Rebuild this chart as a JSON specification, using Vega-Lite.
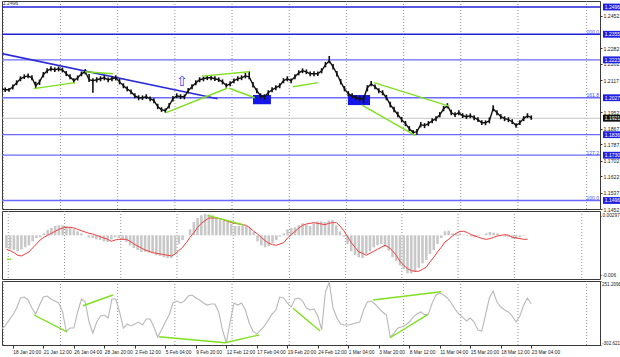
{
"$schema":"https://vega.github.io/schema/vega-lite/v6.json",
"padding":0,"autosize":{"type":"pad"},"background":"white",
"spacing":2,"bounds":"flush",
"resolve":{"scale":{"x":"independent","y":"independent"}},
"config":{"view":{"stroke":"#3a3a3a","strokeWidth":1},"axis":{"labelFont":"Liberation Sans","labelColor":"#222","tickColor":"#333","domain":false,"grid":false,"title":null,"labelOverlap":false,"labelFlush":false,"labelBound":false},"text":{"font":"Liberation Sans"}},
"datasets":{
"weeks":[{"i":-5},{"i":25},{"i":55},{"i":85},{"i":115},{"i":145},{"i":175},{"i":205},{"i":235},{"i":265},{"i":301}],
"levels":[
{"p":1.2496,"kind":"major","t":"1.2496","f":""},
{"p":1.2355,"kind":"major","t":"1.2355","f":"200.0"},
{"p":1.2223,"kind":"minor","t":"1.2223","f":""},
{"p":1.2027,"kind":"minor","t":"1.2027","f":"161.8"},
{"p":1.1836,"kind":"minor","t":"1.1836","f":""},
{"p":1.1730,"kind":"minor","t":"1.1730","f":"127.2"},
{"p":1.1496,"kind":"minor","t":"1.1496","f":"100.0"},
{"p":1.1921,"kind":"bid","t":"1.1921","f":""}],
"ticks":[{"p":1.1452},{"p":1.1537},{"p":1.1622},{"p":1.1702},{"p":1.1787},{"p":1.1867},{"p":1.1952},{"p":1.2117},{"p":1.2202},{"p":1.2282},{"p":1.2452}],
"trend":[{"i":-6,"p":1.2256},{"i":107.4,"p":1.2022}],
"greens":[
{"g":1,"i":11.1,"p":1.2074},{"g":1,"i":32.6,"p":1.2105},
{"g":2,"i":37.9,"p":1.2161},{"g":2,"i":52.5,"p":1.2151},
{"g":3,"i":80.4,"p":1.1950},{"g":3,"i":112.4,"p":1.2076},
{"g":4,"i":99.2,"p":1.2139},{"g":4,"i":123.9,"p":1.2161},
{"g":5,"i":113.4,"p":1.2076},{"g":5,"i":127.0,"p":1.2027},
{"g":6,"i":147.0,"p":1.2084},{"g":6,"i":160.1,"p":1.2105},
{"g":7,"i":189.5,"p":1.2105},{"g":7,"i":228.8,"p":1.1984},
{"g":8,"i":183.2,"p":1.1989},{"g":8,"i":211.0,"p":1.1833}],
"rects":[{"i1":126.0,"i2":135.4,"p1":1.2041,"p2":1.1994},{"i1":175.8,"i2":187.4,"p1":1.2041,"p2":1.1989}],
"arrow":[{"i":88.7,"p":1.2108,"t":"⇧"}],
"macdg":[{"g":1,"i":-5.7,"m":-0.0036},{"g":1,"i":-3.6,"m":-0.0036},{"g":2,"i":101.3,"m":0.0030},{"g":2,"i":120.7,"m":0.00155}],
"ccig":[
{"g":1,"i":11.1,"v":-43},{"g":1,"i":28.4,"v":-190},
{"g":2,"i":36.8,"v":37},{"g":2,"i":52.5,"v":130},
{"g":3,"i":76.7,"v":-231},{"g":3,"i":111.3,"v":-283},
{"g":4,"i":111.3,"v":-283},{"g":4,"i":129.1,"v":-216},
{"g":5,"i":147.0,"v":15},{"g":5,"i":161.2,"v":-182},
{"g":6,"i":189.0,"v":87},{"g":6,"i":224.6,"v":158},
{"g":7,"i":197.9,"v":-240},{"g":7,"i":217.8,"v":-37}],
"bars":[
{"i":-6,"h":1.2086,"l":1.2062,"c":1.2073,"m":-0.0019,"s":-0.0021,"v":-164},
{"i":-4,"h":1.2080,"l":1.2057,"c":1.2068,"m":-0.0021,"s":-0.0023,"v":-138},
{"i":-2,"h":1.2078,"l":1.2058,"c":1.2068,"m":-0.0022,"s":-0.0026,"v":-87},
{"i":0,"h":1.2096,"l":1.2070,"c":1.2084,"m":-0.0024,"s":-0.0030,"v":-43},
{"i":2,"h":1.2117,"l":1.2092,"c":1.2104,"m":-0.0021,"s":-0.0031,"v":17},
{"i":4,"h":1.2138,"l":1.2112,"c":1.2125,"m":-0.0018,"s":-0.0028,"v":104},
{"i":6,"h":1.2148,"l":1.2124,"c":1.2135,"m":-0.0015,"s":-0.0025,"v":112},
{"i":8,"h":1.2152,"l":1.2128,"c":1.2140,"m":-0.0009,"s":-0.0019,"v":87},
{"i":10,"h":1.2143,"l":1.2118,"c":1.2130,"m":-0.0004,"s":-0.0013,"v":17},
{"i":12,"h":1.2110,"l":1.2076,"c":1.2089,"m":-0.0003,"s":-0.0007,"v":-35},
{"i":14,"h":1.2121,"l":1.2093,"c":1.2109,"m":0.0003,"s":-0.0003,"v":43},
{"i":16,"h":1.2160,"l":1.2132,"c":1.2146,"m":0.0008,"s":0.0000,"v":112},
{"i":18,"h":1.2179,"l":1.2153,"c":1.2166,"m":0.0011,"s":0.0003,"v":121},
{"i":20,"h":1.2190,"l":1.2164,"c":1.2177,"m":0.0014,"s":0.0006,"v":95},
{"i":22,"h":1.2184,"l":1.2160,"c":1.2171,"m":0.0015,"s":0.0009,"v":78},
{"i":24,"h":1.2188,"l":1.2163,"c":1.2177,"m":0.0015,"s":0.0011,"v":61},
{"i":26,"h":1.2183,"l":1.2158,"c":1.2171,"m":0.0014,"s":0.0012,"v":-9},
{"i":28,"h":1.2165,"l":1.2139,"c":1.2151,"m":0.0012,"s":0.0012,"v":-182},
{"i":30,"h":1.2148,"l":1.2122,"c":1.2135,"m":0.0009,"s":0.0011,"v":-156},
{"i":32,"h":1.2128,"l":1.2102,"c":1.2115,"m":0.0006,"s":0.0009,"v":-156},
{"i":34,"h":1.2142,"l":1.2116,"c":1.2130,"m":0.0003,"s":0.0007,"v":-17},
{"i":36,"h":1.2163,"l":1.2138,"c":1.2151,"m":0.0000,"s":0.0005,"v":95},
{"i":38,"h":1.2175,"l":1.2148,"c":1.2161,"m":-0.0003,"s":0.0003,"v":69},
{"i":40,"h":1.2150,"l":1.2108,"c":1.2120,"m":-0.0004,"s":0.0002,"v":-104},
{"i":42,"h":1.2128,"l":1.2053,"c":1.2115,"m":-0.0006,"s":0.0000,"v":-199},
{"i":44,"h":1.2133,"l":1.2106,"c":1.2120,"m":-0.0007,"s":-0.0002,"v":-104},
{"i":46,"h":1.2138,"l":1.2112,"c":1.2125,"m":-0.0009,"s":-0.0004,"v":-52},
{"i":48,"h":1.2143,"l":1.2117,"c":1.2130,"m":-0.0010,"s":-0.0006,"v":-43},
{"i":50,"h":1.2132,"l":1.2107,"c":1.2120,"m":-0.0006,"s":-0.0009,"v":-69},
{"i":52,"h":1.2138,"l":1.2112,"c":1.2125,"m":-0.0003,"s":-0.0007,"v":95},
{"i":54,"h":1.2143,"l":1.2116,"c":1.2130,"m":-0.0004,"s":-0.0006,"v":95},
{"i":56,"h":1.2124,"l":1.2096,"c":1.2109,"m":-0.0007,"s":-0.0006,"v":-17},
{"i":58,"h":1.2102,"l":1.2076,"c":1.2089,"m":-0.0010,"s":-0.0006,"v":-156},
{"i":60,"h":1.2086,"l":1.2060,"c":1.2073,"m":-0.0015,"s":-0.0009,"v":-121},
{"i":62,"h":1.2070,"l":1.2045,"c":1.2058,"m":-0.0019,"s":-0.0013,"v":-138},
{"i":64,"h":1.2050,"l":1.2024,"c":1.2037,"m":-0.0022,"s":-0.0016,"v":-121},
{"i":66,"h":1.2040,"l":1.2014,"c":1.2027,"m":-0.0025,"s":-0.0019,"v":-104},
{"i":68,"h":1.2039,"l":1.2015,"c":1.2027,"m":-0.0025,"s":-0.0022,"v":-130},
{"i":70,"h":1.2045,"l":1.2020,"c":1.2032,"m":-0.0026,"s":-0.0024,"v":-78},
{"i":72,"h":1.2034,"l":1.2009,"c":1.2022,"m":-0.0027,"s":-0.0026,"v":-78},
{"i":74,"h":1.2025,"l":1.1998,"c":1.2012,"m":-0.0030,"s":-0.0027,"v":-147},
{"i":76,"h":1.1996,"l":1.1968,"c":1.1981,"m":-0.0031,"s":-0.0028,"v":-234},
{"i":78,"h":1.1978,"l":1.1954,"c":1.1965,"m":-0.0033,"s":-0.0029,"v":-173},
{"i":80,"h":1.1972,"l":1.1950,"c":1.1960,"m":-0.0034,"s":-0.0030,"v":-104},
{"i":82,"h":1.2000,"l":1.1972,"c":1.1986,"m":-0.0034,"s":-0.0031,"v":-43},
{"i":84,"h":1.2036,"l":1.2008,"c":1.2022,"m":-0.0027,"s":-0.0028,"v":61},
{"i":86,"h":1.2050,"l":1.2025,"c":1.2037,"m":-0.0013,"s":-0.0023,"v":78},
{"i":88,"h":1.2045,"l":1.2020,"c":1.2032,"m":-0.0007,"s":-0.0018,"v":61},
{"i":90,"h":1.2044,"l":1.2019,"c":1.2032,"m":0.0000,"s":-0.0011,"v":78},
{"i":92,"h":1.2077,"l":1.2050,"c":1.2063,"m":0.0009,"s":-0.0003,"v":121},
{"i":94,"h":1.2097,"l":1.2071,"c":1.2084,"m":0.0020,"s":0.0004,"v":130},
{"i":96,"h":1.2117,"l":1.2092,"c":1.2104,"m":0.0026,"s":0.0012,"v":104},
{"i":98,"h":1.2133,"l":1.2107,"c":1.2120,"m":0.0030,"s":0.0018,"v":87},
{"i":100,"h":1.2137,"l":1.2112,"c":1.2125,"m":0.0032,"s":0.0022,"v":61},
{"i":102,"h":1.2143,"l":1.2118,"c":1.2130,"m":0.0031,"s":0.0026,"v":43},
{"i":104,"h":1.2142,"l":1.2117,"c":1.2130,"m":0.0030,"s":0.0026,"v":52},
{"i":106,"h":1.2138,"l":1.2113,"c":1.2125,"m":0.0027,"s":0.0026,"v":52},
{"i":108,"h":1.2132,"l":1.2108,"c":1.2120,"m":0.0024,"s":0.0025,"v":-17},
{"i":110,"h":1.2122,"l":1.2096,"c":1.2109,"m":0.0022,"s":0.0023,"v":-173},
{"i":112,"h":1.2102,"l":1.2079,"c":1.2089,"m":0.0020,"s":0.0021,"v":-283},
{"i":114,"h":1.2112,"l":1.2087,"c":1.2099,"m":0.0017,"s":0.0019,"v":-104},
{"i":116,"h":1.2127,"l":1.2102,"c":1.2115,"m":0.0014,"s":0.0018,"v":61},
{"i":118,"h":1.2138,"l":1.2113,"c":1.2125,"m":0.0014,"s":0.0017,"v":43},
{"i":120,"h":1.2143,"l":1.2118,"c":1.2130,"m":0.0015,"s":0.0016,"v":61},
{"i":122,"h":1.2155,"l":1.2127,"c":1.2140,"m":0.0014,"s":0.0015,"v":0},
{"i":124,"h":1.2162,"l":1.2122,"c":1.2135,"m":0.0011,"s":0.0011,"v":-112},
{"i":126,"h":1.2108,"l":1.2080,"c":1.2094,"m":0.0005,"s":0.0006,"v":-182},
{"i":128,"h":1.2076,"l":1.2050,"c":1.2063,"m":-0.0009,"s":0.0002,"v":-208},
{"i":130,"h":1.2050,"l":1.2024,"c":1.2037,"m":-0.0015,"s":-0.0003,"v":-173},
{"i":132,"h":1.2045,"l":1.2017,"c":1.2032,"m":-0.0018,"s":-0.0008,"v":-138},
{"i":134,"h":1.2066,"l":1.2040,"c":1.2053,"m":-0.0016,"s":-0.0012,"v":-87},
{"i":136,"h":1.2081,"l":1.2056,"c":1.2068,"m":-0.0012,"s":-0.0014,"v":-35},
{"i":138,"h":1.2091,"l":1.2066,"c":1.2079,"m":-0.0007,"s":-0.0015,"v":0},
{"i":140,"h":1.2102,"l":1.2076,"c":1.2089,"m":-0.0002,"s":-0.0013,"v":112},
{"i":142,"h":1.2128,"l":1.2102,"c":1.2115,"m":0.0003,"s":-0.0011,"v":104},
{"i":144,"h":1.2138,"l":1.2112,"c":1.2125,"m":0.0009,"s":-0.0004,"v":61},
{"i":146,"h":1.2127,"l":1.2102,"c":1.2115,"m":0.0011,"s":0.0001,"v":26},
{"i":148,"h":1.2148,"l":1.2122,"c":1.2135,"m":0.0012,"s":0.0006,"v":95},
{"i":150,"h":1.2169,"l":1.2143,"c":1.2156,"m":0.0015,"s":0.0011,"v":104},
{"i":152,"h":1.2179,"l":1.2154,"c":1.2166,"m":0.0018,"s":0.0015,"v":78},
{"i":154,"h":1.2173,"l":1.2149,"c":1.2161,"m":0.0016,"s":0.0017,"v":17},
{"i":156,"h":1.2163,"l":1.2138,"c":1.2151,"m":0.0014,"s":0.0018,"v":0},
{"i":158,"h":1.2164,"l":1.2138,"c":1.2151,"m":0.0018,"s":0.0019,"v":9},
{"i":160,"h":1.2163,"l":1.2139,"c":1.2151,"m":0.0021,"s":0.0018,"v":-52},
{"i":162,"h":1.2180,"l":1.2153,"c":1.2166,"m":0.0021,"s":0.0017,"v":-170},
{"i":164,"h":1.2212,"l":1.2184,"c":1.2197,"m":0.0020,"s":0.0016,"v":156},
{"i":166,"h":1.2243,"l":1.2205,"c":1.2218,"m":0.0022,"s":0.0018,"v":240},
{"i":168,"h":1.2201,"l":1.2173,"c":1.2187,"m":0.0023,"s":0.0019,"v":17},
{"i":170,"h":1.2165,"l":1.2137,"c":1.2151,"m":0.0015,"s":0.0019,"v":-69},
{"i":172,"h":1.2124,"l":1.2096,"c":1.2109,"m":0.0006,"s":0.0014,"v":-121},
{"i":174,"h":1.2087,"l":1.2060,"c":1.2073,"m":-0.0002,"s":0.0007,"v":-130},
{"i":176,"h":1.2061,"l":1.2035,"c":1.2048,"m":-0.0013,"s":-0.0002,"v":-130},
{"i":178,"h":1.2050,"l":1.2025,"c":1.2037,"m":-0.0024,"s":-0.0011,"v":-121},
{"i":180,"h":1.2040,"l":1.2015,"c":1.2027,"m":-0.0030,"s":-0.0018,"v":-112},
{"i":182,"h":1.2035,"l":1.2009,"c":1.2022,"m":-0.0033,"s":-0.0025,"v":-104},
{"i":184,"h":1.2034,"l":1.1999,"c":1.2022,"m":-0.0034,"s":-0.0027,"v":0},
{"i":186,"h":1.2092,"l":1.2060,"c":1.2079,"m":-0.0028,"s":-0.0030,"v":69},
{"i":188,"h":1.2113,"l":1.2086,"c":1.2099,"m":-0.0024,"s":-0.0027,"v":78},
{"i":190,"h":1.2096,"l":1.2071,"c":1.2084,"m":-0.0018,"s":-0.0024,"v":52},
{"i":192,"h":1.2076,"l":1.2050,"c":1.2063,"m":-0.0015,"s":-0.0021,"v":17},
{"i":194,"h":1.2066,"l":1.2040,"c":1.2053,"m":-0.0013,"s":-0.0018,"v":-17},
{"i":196,"h":1.2042,"l":1.2014,"c":1.2027,"m":-0.0017,"s":-0.0015,"v":-43},
{"i":198,"h":1.2006,"l":1.1977,"c":1.1991,"m":-0.0023,"s":-0.0018,"v":-235},
{"i":200,"h":1.1980,"l":1.1952,"c":1.1965,"m":-0.0033,"s":-0.0023,"v":-199},
{"i":202,"h":1.1954,"l":1.1926,"c":1.1939,"m":-0.0039,"s":-0.0030,"v":-156},
{"i":204,"h":1.1928,"l":1.1900,"c":1.1914,"m":-0.0045,"s":-0.0039,"v":-147},
{"i":206,"h":1.1907,"l":1.1880,"c":1.1893,"m":-0.0051,"s":-0.0045,"v":-130},
{"i":208,"h":1.1881,"l":1.1854,"c":1.1867,"m":-0.0057,"s":-0.0050,"v":-104},
{"i":210,"h":1.1860,"l":1.1836,"c":1.1847,"m":-0.0057,"s":-0.0053,"v":-61},
{"i":212,"h":1.1866,"l":1.1836,"c":1.1852,"m":-0.0055,"s":-0.0054,"v":-35},
{"i":214,"h":1.1902,"l":1.1874,"c":1.1888,"m":-0.0049,"s":-0.0054,"v":-17},
{"i":216,"h":1.1896,"l":1.1870,"c":1.1883,"m":-0.0042,"s":-0.0051,"v":-40},
{"i":218,"h":1.1906,"l":1.1880,"c":1.1893,"m":-0.0037,"s":-0.0048,"v":-35},
{"i":220,"h":1.1921,"l":1.1895,"c":1.1908,"m":-0.0028,"s":-0.0040,"v":60},
{"i":222,"h":1.1932,"l":1.1906,"c":1.1919,"m":-0.0022,"s":-0.0033,"v":130},
{"i":224,"h":1.1953,"l":1.1926,"c":1.1939,"m":-0.0013,"s":-0.0025,"v":147},
{"i":226,"h":1.1985,"l":1.1957,"c":1.1970,"m":-0.0004,"s":-0.0018,"v":130},
{"i":228,"h":1.1999,"l":1.1972,"c":1.1986,"m":0.0006,"s":-0.0010,"v":104},
{"i":230,"h":1.1965,"l":1.1937,"c":1.1950,"m":0.0007,"s":-0.0006,"v":61},
{"i":232,"h":1.1952,"l":1.1927,"c":1.1939,"m":0.0003,"s":-0.0001,"v":9},
{"i":234,"h":1.1962,"l":1.1937,"c":1.1950,"m":0.0003,"s":0.0003,"v":-35},
{"i":236,"h":1.1947,"l":1.1922,"c":1.1934,"m":0.0003,"s":0.0006,"v":-61},
{"i":238,"h":1.1942,"l":1.1917,"c":1.1929,"m":0.0001,"s":0.0006,"v":-95},
{"i":240,"h":1.1946,"l":1.1921,"c":1.1934,"m":-0.0001,"s":0.0004,"v":-69},
{"i":242,"h":1.1936,"l":1.1911,"c":1.1924,"m":-0.0002,"s":0.0001,"v":-104},
{"i":244,"h":1.1926,"l":1.1901,"c":1.1914,"m":-0.0003,"s":-0.0001,"v":-173},
{"i":246,"h":1.1911,"l":1.1886,"c":1.1898,"m":-0.0001,"s":-0.0003,"v":-182},
{"i":248,"h":1.1910,"l":1.1885,"c":1.1898,"m":0.0000,"s":-0.0005,"v":-43},
{"i":250,"h":1.1925,"l":1.1895,"c":1.1908,"m":0.0003,"s":-0.0006,"v":104},
{"i":252,"h":1.1988,"l":1.1957,"c":1.1970,"m":0.0005,"s":-0.0005,"v":164},
{"i":254,"h":1.1963,"l":1.1937,"c":1.1950,"m":0.0004,"s":-0.0003,"v":69},
{"i":256,"h":1.1942,"l":1.1916,"c":1.1929,"m":0.0003,"s":-0.0001,"v":26},
{"i":258,"h":1.1931,"l":1.1906,"c":1.1919,"m":0.0000,"s":0.0000,"v":0},
{"i":260,"h":1.1926,"l":1.1901,"c":1.1914,"m":-0.0002,"s":0.0001,"v":-17},
{"i":262,"h":1.1916,"l":1.1891,"c":1.1903,"m":-0.0003,"s":0.0000,"v":-52},
{"i":264,"h":1.1895,"l":1.1872,"c":1.1883,"m":-0.0005,"s":-0.0003,"v":-104},
{"i":266,"h":1.1911,"l":1.1886,"c":1.1898,"m":-0.0005,"s":-0.0004,"v":-52},
{"i":268,"h":1.1932,"l":1.1906,"c":1.1919,"m":-0.0003,"s":-0.0005,"v":43},
{"i":270,"h":1.1947,"l":1.1922,"c":1.1934,"m":-0.0001,"s":-0.0006,"v":104},
{"i":272,"h":1.1936,"l":1.1913,"c":1.1924,"m":0.0000,"s":-0.0006,"v":52}
]},
"vconcat":[
{"width":598,"height":208,
"resolve":{"axis":{"x":"independent","y":"independent"}},
"layer":[
{"data":{"name":"ticks"},"mark":{"type":"rule","opacity":0},
 "encoding":{"y":{"field":"p","type":"quantitative","scale":{"domain":[1.1452,1.2527],"nice":false,"zero":false},
   "axis":{"orient":"right","values":[1.1452,1.1537,1.1622,1.1702,1.1787,1.1867,1.1952,1.2117,1.2202,1.2282,1.2452],"format":".4f","tickSize":2,"labelPadding":1,"labelFontSize":5.2,"labelOverlap":false}}}},
{"data":{"name":"weeks"},"mark":{"type":"rule","color":"#7a7a7a","strokeDash":[1,2],"strokeWidth":0.8},
 "encoding":{"x":{"field":"i","type":"quantitative","scale":{"domain":[-5.69,308.05],"nice":false,"zero":false},"axis":null}}},
{"data":{"name":"levels"},"mark":{"type":"rule"},
 "encoding":{"y":{"field":"p","type":"quantitative","axis":null},
  "stroke":{"field":"kind","type":"nominal","scale":{"domain":["major","minor","bid"],"range":["#2121d6","#6a6aff","#c4c4c4"]},"legend":null},
  "strokeWidth":{"field":"kind","type":"nominal","scale":{"domain":["major","minor","bid"],"range":[1.6,1,1]},"legend":null}}},
{"data":{"name":"trend"},"mark":{"type":"line","color":"#2a2ad8","strokeWidth":1.6,"clip":true},
 "encoding":{"x":{"field":"i","type":"quantitative","axis":null},"y":{"field":"p","type":"quantitative","axis":null}}},
{"data":{"name":"rects"},"mark":{"type":"rect","color":"#1515e8"},
 "encoding":{"x":{"field":"i1","type":"quantitative","axis":null},"x2":{"field":"i2"},"y":{"field":"p1","type":"quantitative","axis":null},"y2":{"field":"p2"}}},
{"data":{"name":"bars"},"mark":{"type":"rule","color":"#111","strokeWidth":1.6,"clip":true},
 "encoding":{"x":{"field":"i","type":"quantitative","axis":null},"y":{"field":"l","type":"quantitative","axis":null},"y2":{"field":"h"}}},
{"data":{"name":"bars"},"mark":{"type":"line","color":"#111","strokeWidth":1.4,"clip":true},
 "encoding":{"x":{"field":"i","type":"quantitative","axis":null},"y":{"field":"c","type":"quantitative","axis":null}}},
{"data":{"name":"greens"},"mark":{"type":"line","color":"#7ee01f","strokeWidth":1.4},
 "encoding":{"x":{"field":"i","type":"quantitative","axis":null},"y":{"field":"p","type":"quantitative","axis":null},"detail":{"field":"g","type":"nominal"}}},
{"data":{"name":"arrow"},"mark":{"type":"text","font":"DejaVu Sans","fontSize":14,"color":"#3a3aff","baseline":"middle","align":"center"},
 "encoding":{"x":{"field":"i","type":"quantitative","axis":null},"y":{"field":"p","type":"quantitative","axis":null},"text":{"field":"t"}}},
{"data":{"name":"levels"},"transform":[{"filter":"datum.f != ''"}],"mark":{"type":"text","align":"right","baseline":"bottom","fontSize":5,"color":"#4a4aff","dy":0.5},
 "encoding":{"x":{"datum":307.5,"type":"quantitative","axis":null},"y":{"field":"p","type":"quantitative","axis":null},"text":{"field":"f"}}},
{"data":{"name":"levels"},"transform":[{"filter":"datum.t == '1.2496'"}],"mark":{"type":"text","align":"left","baseline":"bottom","fontSize":5,"color":"#333","dy":-0.5},
 "encoding":{"x":{"datum":-5.2,"type":"quantitative","axis":null},"y":{"field":"p","type":"quantitative","axis":null},"text":{"field":"t"}}},
{"data":{"name":"levels"},"mark":{"type":"point","shape":"M-1,-0.36H1V0.36H-1Z","size":361,"filled":true,"opacity":1,"strokeWidth":0},
 "encoding":{"x":{"datum":314.6,"type":"quantitative","axis":null},"y":{"field":"p","type":"quantitative","axis":null},
  "fill":{"field":"kind","type":"nominal","scale":{"domain":["major","minor","bid"],"range":["#2020e0","#2020e0","#111111"]},"legend":null}}},
{"data":{"name":"levels"},"mark":{"type":"text","align":"center","baseline":"middle","fontSize":5,"color":"white"},
 "encoding":{"x":{"datum":314.6,"type":"quantitative","axis":null},"y":{"field":"p","type":"quantitative","axis":null},"text":{"field":"t"}}}
]},
{"width":598,"height":68,
"encoding":{"x":{"field":"i","type":"quantitative","scale":{"domain":[-5.69,308.05],"nice":false,"zero":false},"axis":null}},
"layer":[
{"data":{"name":"weeks"},"mark":{"type":"rule","color":"#7a7a7a","strokeDash":[1,2],"strokeWidth":0.8}},
{"data":{"name":"bars"},"mark":{"type":"bar","color":"#c8c8c8","width":2.6,"clip":true},
 "encoding":{"y":{"field":"m","type":"quantitative","scale":{"domain":[-0.00656,0.00365],"nice":false,"zero":false},
   "axis":{"orient":"right","values":[0.00297,0,-0.006],"labelExpr":"datum.value == 0 ? '0.00' : (datum.value > 0 ? '0.00297' : '-0.006')","tickSize":1,"labelPadding":1,"labelFontSize":4.8}},
  "y2":{"datum":0}}},
{"data":{"name":"bars"},"mark":{"type":"line","color":"#f03c3c","strokeWidth":1,"clip":true},
 "encoding":{"y":{"field":"s","type":"quantitative"}}},
{"data":{"name":"macdg"},"mark":{"type":"line","color":"#7ee01f","strokeWidth":1.4,"clip":true},
 "encoding":{"y":{"field":"m","type":"quantitative"},"detail":{"field":"g","type":"nominal"}}}
]},
{"width":598,"height":64,
"encoding":{"x":{"field":"i","type":"quantitative","scale":{"domain":[-5.69,308.05],"nice":false,"zero":false},
   "axis":{"values":[0,16,32,48,64,80,96,112,128,144,160,176,192,208,224,240,256,272],
    "labelExpr":"['18 Jan 20:00','21 Jan 12:00','26 Jan 04:00','28 Jan 20:00','2 Feb 12:00','5 Feb 04:00','9 Feb 20:00','12 Feb 12:00','17 Feb 04:00','19 Feb 20:00','24 Feb 12:00','1 Mar 04:00','3 Mar 20:00','8 Mar 12:00','11 Mar 04:00','15 Mar 20:00','18 Mar 12:00','23 Mar 04:00'][round(datum.value/16)]",
    "labelAlign":"left","labelFontSize":4.8,"tickSize":3,"labelPadding":1}}},
"layer":[
{"data":{"name":"weeks"},"mark":{"type":"rule","color":"#7a7a7a","strokeDash":[1,2],"strokeWidth":0.8}},
{"data":{"name":"bars"},"mark":{"type":"line","color":"#b8b8b8","strokeWidth":1.1,"clip":true},
 "encoding":{"y":{"field":"v","type":"quantitative","scale":{"domain":[-302.621,251.2098],"nice":false,"zero":false},
   "axis":{"orient":"right","values":[251.2098,0,-302.621],"labelExpr":"datum.value == 0 ? '0.00' : (datum.value > 0 ? '251.2098' : '-302.621')","tickSize":1,"labelPadding":0.5,"labelFontSize":4.6,"labelFlush":true}}}},
{"data":{"name":"ccig"},"mark":{"type":"line","color":"#7ee01f","strokeWidth":1.4,"clip":true},
 "encoding":{"y":{"field":"v","type":"quantitative"},"detail":{"field":"g","type":"nominal"}}}
]}
]}
